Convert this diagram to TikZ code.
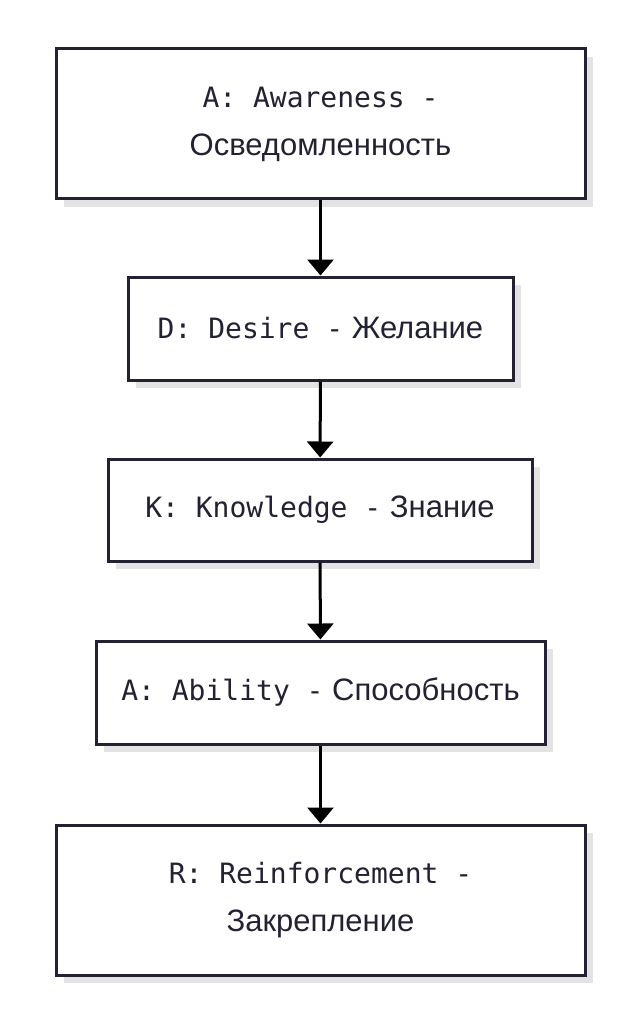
\documentclass[tikz,border=0pt]{standalone}
\usepackage{fontspec}
\setmainfont{Liberation Sans}
\newfontfamily\mn{DejaVu Sans Mono}
\newcommand\mtx[1]{{\mn\fontsize{28}{48}\selectfont #1}}
\usetikzlibrary{shadows,arrows.meta}
\definecolor{ink}{HTML}{222233}
\tikzset{
 box/.style={draw=ink,line width=3pt,fill=white,rectangle,align=center,font=\fontsize{31}{48}\selectfont,text=ink,
   drop shadow={shadow xshift=8pt,shadow yshift=-8pt,fill=gray!22,opacity=1}},
 conn/.style={draw=black,line width=3pt,-{Triangle[length=16pt,width=26pt]}}
}
\begin{document}
\begin{tikzpicture}[x=1pt,y=1pt]
\useasboundingbox (0,0) rectangle (643,-1024);
\node[box,minimum width=529pt,minimum height=150pt] (a1) at (320.5,-124) {\mtx{A: Awareness -}\\Осведомленность};
\node[box,minimum width=385pt,minimum height=103pt] (d) at (320.5,-328.5) {\mtx{D: Desire -} Желание};
\node[box,minimum width=424pt,minimum height=102pt] (k) at (320,-510) {\mtx{K: Knowledge -} Знание};
\node[box,minimum width=449pt,minimum height=103pt] (a2) at (320.5,-692.5) {\mtx{A: Ability -} Способность};
\node[box,minimum width=529pt,minimum height=150pt] (r) at (320.5,-900) {\mtx{R: Reinforcement -}\\Закрепление};
\draw[conn] (a1) -- (d);
\draw[conn] (d) -- (k);
\draw[conn] (k) -- (a2);
\draw[conn] (a2) -- (r);
\end{tikzpicture}
\end{document}
